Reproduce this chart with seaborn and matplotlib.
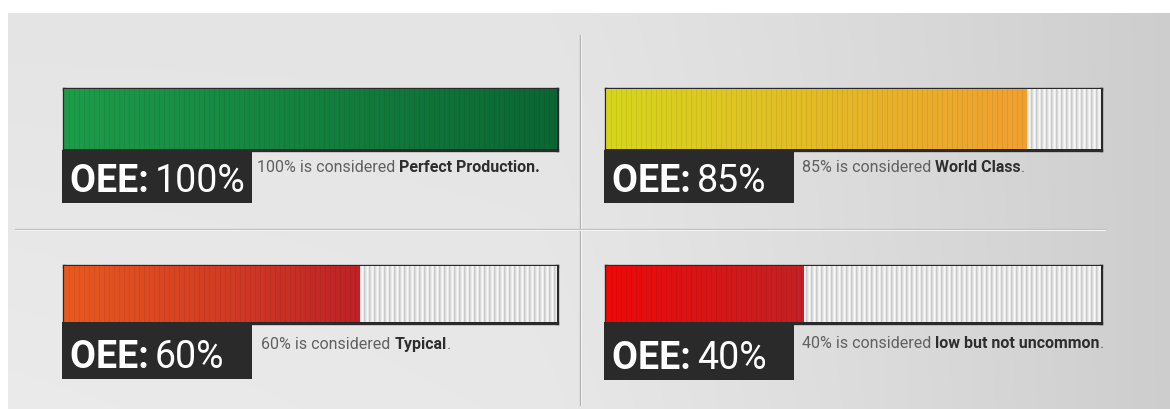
import numpy as np
import pandas as pd
import matplotlib
matplotlib.use("Agg")
import matplotlib.pyplot as plt
import seaborn as sns
from matplotlib.colors import to_rgb

# ---------------- data ----------------
oee_values = [100, 85, 60, 40]
label_bold = ["OEE:", "OEE:", "OEE:", "OEE:"]
label_value = ["100%", "85%", "60%", "40%"]
descr_prefix = ["100% is considered ", "85% is considered ", "60% is considered ", "40% is considered "]
descr_bold = ["Perfect Production.", "World Class", "Typical", "low but not uncommon"]
descr_suffix = ["", ".", ".", "."]
grad_start = ["#1d9c4a", "#d6d61c", "#e95a20", "#ef0808"]
grad_end = ["#0b6633", "#f1a030", "#be2227", "#c22224"]

# ---------------- layout (pixels) ----------------
W, H = 1170, 409
sns.set_theme(style="white")
FONT = ["Roboto", "DejaVu Sans"]
plt.rcParams["font.family"] = FONT

fig = plt.figure(figsize=(W / 100, H / 100), dpi=100, facecolor="white")


def rect(x0, y0, x1, y1):
    return [x0 / W, 1 - y1 / H, (x1 - x0) / W, (y1 - y0) / H]


def fx(x):
    return x / W


def fy(y):
    return 1 - y / H


# background
bg = fig.add_axes([0, 0, 1, 1])
bg.set_xlim(0, W)
bg.set_ylim(H, 0)
bg.axis("off")
xs = np.linspace(0, 1, 400)
ys = np.linspace(0, 1, 100)
XX, YY = np.meshgrid(xs, ys)
lum = 0.895 - 0.09 * np.clip((XX - 0.45) / 0.55, 0, 1) ** 1.3 + 0.025 * YY * (1 - XX)
img = np.dstack([lum, lum, lum])
bg.imshow(img, extent=(8, W, H, 13), aspect="auto", interpolation="bilinear", zorder=0)
bg.plot([580, 580], [35, 405], color="#b0b0b0", lw=1.0, zorder=1)
bg.plot([581.2, 581.2], [35, 405], color="#f2f2f2", lw=0.8, zorder=1)
bg.plot([15, 1105], [229, 229], color="#c2c2c2", lw=1.0, zorder=1)
bg.plot([15, 1105], [230.2, 230.2], color="#f2f2f2", lw=0.8, zorder=1)

panels = [
    dict(box=(62, 87, 558, 151), lab=(62, 150, 252, 203), tx=257, ty=160),
    dict(box=(604, 87, 1102, 151), lab=(604, 150, 794, 203), tx=802, ty=160),
    dict(box=(62, 264, 558, 324), lab=(62, 322, 252, 379), tx=261, ty=337),
    dict(box=(604, 264, 1102, 324), lab=(604, 322, 794, 380), tx=802, ty=336),
]

for i, p in enumerate(panels):
    x0, y0, x1, y1 = p["box"]
    ax = fig.add_axes(rect(x0 + 1.5, y0 + 1.5, x1 - 1.5, y1 - 1.5))
    df = pd.DataFrame({"row": [""], "track": [100], "oee": [oee_values[i]]})
    sns.barplot(data=df, x="track", y="row", orient="h", color="#e9e9e9",
                width=1.0, ax=ax, saturation=1)
    sns.barplot(data=df, x="oee", y="row", orient="h", color=grad_start[i],
                width=1.0, ax=ax, saturation=1)
    ax.set_xlim(0, 100)
    ax.set_ylim(0.5, -0.5)
    ax.set_xlabel("")
    ax.set_ylabel("")
    ax.set_xticks([])
    ax.set_yticks([])
    for s in ax.spines.values():
        s.set_visible(True)
        s.set_color("#2a2a2a")
        s.set_linewidth(2.4)
    track_patch, fill_patch = ax.patches[0], ax.patches[1]
    px_w = x1 - x0 - 3
    # striped light track
    n = int(px_w)
    cols = np.arange(n)
    t = np.full(n, 0.92)
    t[(cols % 5) == 0] = 0.79
    t[(cols % 5) == 1] = 0.86
    t[(cols % 5) == 3] = 0.97
    track_img = np.dstack([t, t, t]).reshape(1, n, 3)
    im = ax.imshow(track_img, extent=(0, 100, 0.5, -0.5), aspect="auto",
                   interpolation="nearest", zorder=3)
    im.set_clip_path(track_patch)
    # gradient fill with subtle stripes
    nf = max(int(px_w * oee_values[i] / 100), 2)
    c0 = np.array(to_rgb(grad_start[i]))
    c1 = np.array(to_rgb(grad_end[i]))
    f = np.linspace(0, 1, nf)[:, None]
    g = c0 * (1 - f) + c1 * f
    stripe = np.ones(nf)
    stripe[(np.arange(nf) % 5) == 0] = 0.93
    g = np.clip(g * stripe[:, None], 0, 1)
    im2 = ax.imshow(g[None, :, :], extent=(0, oee_values[i], 0.5, -0.5), aspect="auto",
                    interpolation="nearest", zorder=4)
    im2.set_clip_path(fill_patch)

    # dark label box
    lx0, ly0, lx1, ly1 = p["lab"]
    fig.patches.append(plt.Rectangle((fx(lx0), fy(ly1)), fx(lx1 - lx0), (ly1 - ly0) / H,
                                     transform=fig.transFigure, facecolor="#2a2a2a",
                                     edgecolor="none", zorder=5))
    lbase = ly1 - 11
    t1 = fig.text(fx(lx0 + 8), fy(lbase), label_bold[i] + " ", color="white",
                  fontsize=27, fontweight="bold", va="baseline", ha="left", zorder=6)
    fig.canvas.draw()
    bb = t1.get_window_extent(renderer=fig.canvas.get_renderer())
    fig.text(bb.x1 / W - 0.003, fy(lbase), label_value[i], color="white", fontsize=27,
             fontweight="normal", va="baseline", ha="left", zorder=6)

    # description
    base = p["ty"] + 12
    d1 = fig.text(fx(p["tx"]), fy(base), descr_prefix[i], color="#606060",
                  fontsize=11.5, va="baseline", ha="left")
    fig.canvas.draw()
    b1 = d1.get_window_extent(renderer=fig.canvas.get_renderer())
    d2 = fig.text(b1.x1 / W, fy(base), descr_bold[i], color="#2e2e2e",
                  fontsize=11.5, fontweight="bold", va="baseline", ha="left")
    if descr_suffix[i]:
        fig.canvas.draw()
        b2 = d2.get_window_extent(renderer=fig.canvas.get_renderer())
        fig.text(b2.x1 / W, fy(base), descr_suffix[i], color="#606060",
                 fontsize=11.5, va="baseline", ha="left")

fig.savefig("out.png", dpi=100, facecolor="white")
